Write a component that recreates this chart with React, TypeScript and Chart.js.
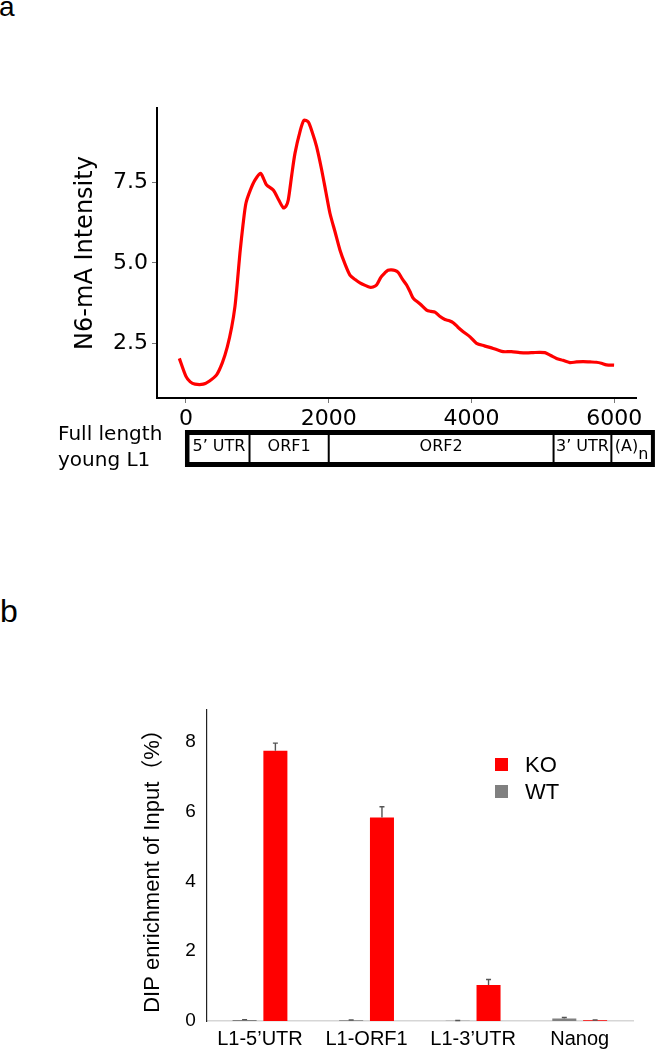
import React, { useEffect, useRef } from "react";
import { Chart, registerables } from "chart.js";

Chart.register(...registerables);

// ---------- Panel a: N6-mA intensity along full length young L1 ----------
const positionBp = [
  -93, 0, 60, 126, 243, 330, 429, 510, 579, 640, 686, 720, 756, 800, 840, 900, 966, 1046, 1090, 1130,
  1223, 1300, 1363, 1400, 1433, 1480, 1527, 1600, 1653, 1713, 1770, 1830, 1900, 1960, 2017, 2090, 2157,
  2230, 2297, 2370, 2437, 2510, 2577, 2620, 2670, 2730, 2787, 2830, 2880, 2930, 2974, 3030, 3091, 3140,
  3184, 3280, 3371, 3430, 3488, 3560, 3628, 3690, 3744, 3810, 3884, 3980, 4071, 4180, 4304, 4370, 4444,
  4560, 4677, 4770, 4864, 4950, 5028, 5110, 5191, 5280, 5378, 5470, 5564, 5660, 5751, 5820, 5891, 5998,
];
const intensity = [
  2.03, 1.47, 1.3, 1.23, 1.23, 1.33, 1.52, 1.9, 2.39, 3.0, 3.64, 4.4, 5.3, 6.2, 6.85, 7.25, 7.57, 7.78, 7.6, 7.42,
  7.26, 6.95, 6.71, 6.75, 6.95, 7.7, 8.4, 9.1, 9.43, 9.38, 9.05, 8.61, 7.9, 7.2, 6.54, 5.95, 5.4,
  4.95, 4.62, 4.48, 4.38, 4.3, 4.24, 4.25, 4.31, 4.55, 4.69, 4.77, 4.78, 4.76, 4.7, 4.5, 4.31, 4.1,
  3.9, 3.72, 3.53, 3.49, 3.47, 3.33, 3.24, 3.2, 3.14, 3.0, 2.86, 2.7, 2.5, 2.42, 2.34, 2.29, 2.24,
  2.24, 2.21, 2.2, 2.21, 2.22, 2.21, 2.12, 2.03, 1.97, 1.9, 1.92, 1.93, 1.92, 1.91, 1.88, 1.83, 1.82,
];
const xTickValuesA = [0, 2000, 4000, 6000];
const yTickValuesA = [2.5, 5.0, 7.5];
const yTitleA = "N6-mA Intensity";

const segmentLabels = ["5\u2019 UTR", "ORF1", "ORF2", "3\u2019 UTR", "(A)"];
const segmentSubscripts = ["", "", "", "", "n"];
const segmentStarts = [0, 890, 2000, 5150, 5960];
const segmentEnds = [890, 2000, 5150, 5960, 6570];
const mapLabelLines = ["Full length", "young L1"];

// ---------- Panel b: DIP enrichment ----------
const categories = ["L1-5\u2019UTR", "L1-ORF1", "L1-3\u2019UTR", "Nanog"];
const seriesNames = ["WT", "KO"];
const wtValues = [0.03, 0.02, 0.01, 0.07];
const wtErrors = [0.01, 0.01, 0.005, 0.03];
const koValues = [7.74, 5.83, 1.03, 0.02];
const koErrors = [0.22, 0.31, 0.16, 0.01];
const yTickValuesB = [0, 2, 4, 6, 8];
const yTitleB = "DIP enrichment of Input\uFF08%\uFF09";

const RED = "#ff0000";
const GRAY = "#808080";
const DEJAVU = '"DejaVu Sans", Verdana, sans-serif';
const ARIAL = '"Liberation Sans", Arial, "Noto Sans CJK SC", sans-serif';

const geneMapPlugin = {
  id: "geneMap",
  afterDraw(chart: any, _args: any, opts: any) {
    const { ctx, chartArea } = chart;
    const xs = chart.scales.x;
    const top = chartArea.bottom + 32;
    const h = 37;
    const starts: number[] = opts.starts;
    const ends: number[] = opts.ends;
    const x0 = xs.getPixelForValue(starts[0]) - 1;
    const x1 = xs.getPixelForValue(ends[ends.length - 1]);
    ctx.save();
    ctx.fillStyle = "#000";
    ctx.fillRect(x0, top, x1 - x0, h);
    starts.forEach((s, i) => {
      const a = xs.getPixelForValue(s);
      const b = xs.getPixelForValue(ends[i]);
      const l = i === 0 ? x0 + 4.5 : a + 1;
      const r = i === starts.length - 1 ? b - 4 : b - 1;
      ctx.fillStyle = "#fff";
      ctx.fillRect(l, top + 5, r - l, h - 10);
      const label: string = opts.labels[i];
      const sub: string = opts.subs[i];
      ctx.fillStyle = "#000";
      ctx.font = `16px ${DEJAVU}`;
      ctx.textBaseline = "middle";
      ctx.textAlign = "left";
      const wl = ctx.measureText(label).width;
      const ws = sub ? ctx.measureText(sub).width : 0;
      const cx = (l + r) / 2;
      const sx = cx - (wl + ws) / 2;
      ctx.fillText(label, sx, top + 17);
      if (sub) ctx.fillText(sub, sx + wl, top + 25);
    });
    ctx.restore();
  },
};

const errorBarPlugin = {
  id: "errorBars",
  afterDatasetsDraw(chart: any, _args: any, opts: any) {
    const { ctx } = chart;
    const ys = chart.scales.y;
    chart.data.datasets.forEach((ds: any, di: number) => {
      const errs: number[] = opts.errors[di];
      const meta = chart.getDatasetMeta(di);
      meta.data.forEach((bar: any, i: number) => {
        const v = ds.data[i];
        const yv = ys.getPixelForValue(v);
        const ye = ys.getPixelForValue(v + errs[i]);
        ctx.save();
        ctx.strokeStyle = "#555";
        ctx.lineWidth = 1.4;
        ctx.beginPath();
        ctx.moveTo(bar.x, yv);
        ctx.lineTo(bar.x, ye);
        ctx.moveTo(bar.x - 2.5, ye);
        ctx.lineTo(bar.x + 2.5, ye);
        ctx.stroke();
        ctx.restore();
      });
    });
  },
};

// vertical axis title drawn without width squeezing, centred on the plot area
const sideTitlePlugin = {
  id: "sideTitle",
  afterDraw(chart: any, _args: any, opts: any) {
    const { ctx, chartArea } = chart;
    ctx.save();
    ctx.translate(opts.x, (chartArea.top + chartArea.bottom) / 2);
    ctx.rotate(-Math.PI / 2);
    ctx.font = opts.font;
    ctx.fillStyle = "#000";
    ctx.textAlign = "center";
    ctx.textBaseline = "middle";
    ctx.fillText(opts.text, 0, 0);
    ctx.restore();
  },
};

export default function App() {
  const refA = useRef<HTMLCanvasElement | null>(null);
  const refB = useRef<HTMLCanvasElement | null>(null);

  useEffect(() => {
    const tickGrid = {
      display: true,
      drawOnChartArea: false,
      drawTicks: true,
      tickLength: 5,
      color: "#777",
      lineWidth: 1,
    };
    const chartA = new Chart(refA.current as HTMLCanvasElement, {
      type: "line",
      data: {
        datasets: [
          {
            data: positionBp.map((x, i) => ({ x, y: intensity[i] })),
            borderColor: RED,
            borderWidth: 3.2,
            pointRadius: 0,
            tension: 0.25,
            fill: false,
          },
        ],
      },
      options: {
        animation: false,
        responsive: false,
        events: [],
        layout: { padding: { left: 71.6, right: 19, top: 108, bottom: 0 } },
        plugins: {
          legend: { display: false },
          tooltip: { enabled: false },
          geneMap: {
            starts: segmentStarts,
            ends: segmentEnds,
            labels: segmentLabels,
            subs: segmentSubscripts,
          },
        } as any,
        scales: {
          x: {
            type: "linear",
            min: -406,
            max: 6305,
            afterBuildTicks: (s: any) => {
              s.ticks = xTickValuesA.map((v) => ({ value: v }));
            },
            afterFit: (s: any) => {
              s.height = 82;
            },
            grid: tickGrid,
            border: { display: true, color: "#000", width: 2 },
            ticks: {
              font: { family: DEJAVU, size: 22 },
              color: "#000",
              padding: 3,
              maxRotation: 0,
              callback: (v: any) => String(v),
            },
          },
          y: {
            type: "linear",
            min: 0.8,
            max: 9.81,
            afterBuildTicks: (s: any) => {
              s.ticks = yTickValuesA.map((v) => ({ value: v }));
            },
            afterFit: (s: any) => {
              s.width = 85.4;
            },
            grid: tickGrid,
            border: { display: true, color: "#000", width: 2 },
            ticks: {
              font: { family: DEJAVU, size: 22 },
              color: "#000",
              padding: 4,
              callback: (v: any) => Number(v).toFixed(1),
            },
            title: {
              display: true,
              text: yTitleA,
              font: { family: DEJAVU, size: 24 },
              color: "#000",
              padding: { top: 0, bottom: 0 },
            },
          },
        },
      } as any,
      plugins: [geneMapPlugin],
    });

    const chartB = new Chart(refB.current as HTMLCanvasElement, {
      type: "bar",
      data: {
        labels: categories,
        datasets: [
          {
            label: seriesNames[0],
            data: wtValues,
            backgroundColor: GRAY,
            categoryPercentage: 0.578,
            barPercentage: 0.78,
          },
          {
            label: seriesNames[1],
            data: koValues,
            backgroundColor: RED,
            categoryPercentage: 0.578,
            barPercentage: 0.78,
          },
        ],
      },
      options: {
        animation: false,
        responsive: false,
        events: [],
        layout: { padding: { left: 140, right: 22, top: 110, bottom: 0 } },
        plugins: {
          legend: { display: false },
          tooltip: { enabled: false },
          errorBars: { errors: [wtErrors, koErrors] },
          sideTitle: { text: yTitleB, x: 153, font: `22px ${ARIAL}` },
        } as any,
        scales: {
          x: {
            grid: { display: false, drawTicks: false },
            border: { display: true, color: "#d6d6d6", width: 1.5 },
            ticks: { font: { family: ARIAL, size: 20 }, color: "#000", padding: 6 },
            afterFit: (s: any) => {
              s.height = 29;
            },
          },
          y: {
            min: 0,
            max: 8.91,
            afterBuildTicks: (s: any) => {
              s.ticks = yTickValuesB.map((v) => ({ value: v }));
            },
            afterFit: (s: any) => {
              s.width = 66.7;
            },
            grid: { display: false, drawTicks: false },
            border: { display: true, color: "#222", width: 1.2 },
            ticks: { font: { family: ARIAL, size: 19 }, color: "#000", padding: 11 },
          },
        },
      } as any,
      plugins: [errorBarPlugin, sideTitlePlugin],
    });

    return () => {
      chartA.destroy();
      chartB.destroy();
    };
  }, []);

  const legendItems = [
    { name: seriesNames[1], color: RED, top: 758 },
    { name: seriesNames[0], color: GRAY, top: 785 },
  ];

  return (
    <div style={{ position: "absolute", left: 0, top: 0, width: 655, height: 1050, background: "#fff", overflow: "hidden" }}>
      <div style={{ position: "absolute", left: -1, top: -7, font: `28px ${ARIAL}`, lineHeight: 1, color: "#000" }}>a</div>
      <canvas ref={refA} width={655} height={480} style={{ position: "absolute", left: 0, top: 0, width: 655, height: 480 }} />
      <div style={{ position: "absolute", left: 58, top: 420, font: `20px ${DEJAVU}`, lineHeight: "26px", color: "#000", whiteSpace: "nowrap" }}>
        {mapLabelLines.map((t) => (
          <div key={t}>{t}</div>
        ))}
      </div>
      <div style={{ position: "absolute", left: 0, top: 595, font: `32px ${ARIAL}`, lineHeight: 1, color: "#000" }}>b</div>
      <canvas ref={refB} width={655} height={450} style={{ position: "absolute", left: 0, top: 600, width: 655, height: 450 }} />
      {legendItems.map((it) => (
        <React.Fragment key={it.name}>
          <div style={{ position: "absolute", left: 495, top: it.top, width: 13, height: 13, background: it.color }} />
          <div style={{ position: "absolute", left: 525, top: it.top - 4, font: `22px ${ARIAL}`, lineHeight: 1, color: "#000" }}>{it.name}</div>
        </React.Fragment>
      ))}
    </div>
  );
}
